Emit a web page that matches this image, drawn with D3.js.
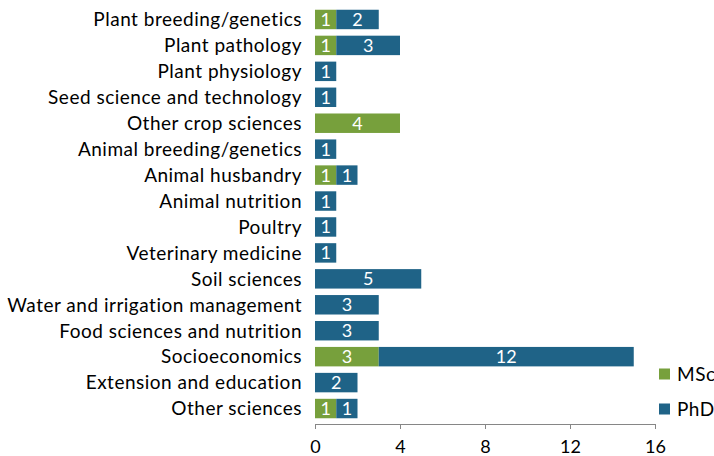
<!DOCTYPE html>
<html><head><meta charset="utf-8">
<script src="https://cdnjs.cloudflare.com/ajax/libs/d3/7.8.5/d3.min.js"></script>
<style>body{margin:0;background:#fff}svg{display:block}text{font-family:Lato,"Open Sans",sans-serif}</style>
</head><body><svg width="714" height="456"></svg>
<script>
const categories = ["Plant breeding/genetics","Plant pathology","Plant physiology","Seed science and technology","Other crop sciences","Animal breeding/genetics","Animal husbandry","Animal nutrition","Poultry","Veterinary medicine","Soil sciences","Water and irrigation management","Food sciences and nutrition","Socioeconomics","Extension and education","Other sciences"];
const msc = [1,1,0,0,4,0,1,0,0,0,0,0,0,3,0,1];
const phd = [2,3,1,1,0,1,1,1,1,1,5,3,3,12,2,1];
const seriesNames = ["MSc","PhD"];
const colors = ["#77a03c","#1f6387"];
const xTicks = [0,4,8,12,16];

const svg = d3.select("svg");
const x = d3.scaleLinear().domain([0,16]).range([315,655]);
const y = d3.scaleBand().domain(categories).range([6.5,421.5]).paddingInner(0.25).paddingOuter(0.125);
const fs = 19, ls = "0.5px";

const data = categories.map((c,i)=>({cat:c, MSc:msc[i], PhD:phd[i]}));
const stack = d3.stack().keys(seriesNames)(data);

stack.forEach((s,si)=>{
  const g = svg.append("g");
  s.forEach((d,i)=>{
    const v = d[1]-d[0];
    if(v<=0) return;
    g.append("rect").attr("x",x(d[0])).attr("y",y(categories[i])).attr("width",x(d[1])-x(d[0])).attr("height",y.bandwidth()).attr("fill",colors[si]);
    g.append("text").attr("x",(x(d[0])+x(d[1]))/2).attr("y",y(categories[i])+y.bandwidth()/2).attr("dy","0.36em").attr("text-anchor","middle").attr("fill","#fff").attr("font-size",18).text(v);
  });
});

// category labels
svg.append("g").selectAll("text").data(categories).join("text")
  .attr("x",302).attr("y",d=>y(d)+y.bandwidth()/2).attr("dy","0.36em").attr("text-anchor","end")
  .attr("font-size",fs).attr("letter-spacing",ls).attr("fill","#000").text(d=>d);

// x axis
const ax = svg.append("g").attr("transform","translate(0,424)")
  .call(d3.axisBottom(x).tickValues(xTicks).tickSize(5).tickSizeOuter(0).tickPadding(11));
ax.select(".domain").attr("stroke","#868686");
ax.selectAll(".tick line").attr("stroke","#868686");
ax.selectAll(".tick text").attr("font-size",18).attr("fill","#000").attr("font-family","Lato,'Open Sans',sans-serif");

// legend
const leg = svg.append("g");
seriesNames.forEach((n,i)=>{
  const cy = 374 + i*35;
  leg.append("rect").attr("x",659).attr("y",cy-5.5).attr("width",11).attr("height",11).attr("fill",colors[i]);
  leg.append("text").attr("x",677).attr("y",cy).attr("dy","0.36em").attr("font-size",fs).attr("letter-spacing",ls).attr("fill","#000").text(n);
});
</script></body></html>
